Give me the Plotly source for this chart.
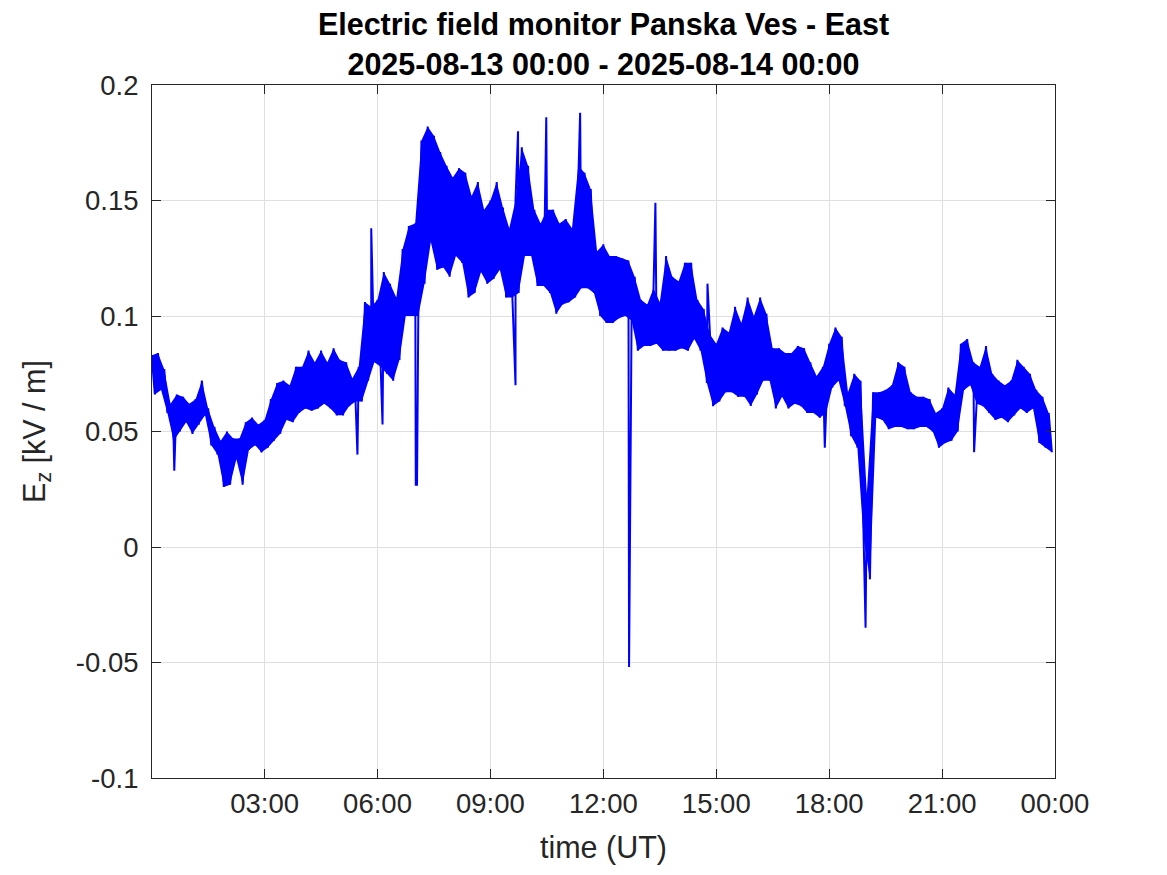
import pandas as pd
import plotly.graph_objects as go

# Ez band, one pair per 10 minutes (upper / lower swing), kV/m
ez_hi = [
    0.083, 0.084, 0.077, 0.062, 0.066, 0.065,  # 00h
    0.062, 0.064, 0.072, 0.060, 0.052, 0.046,  # 01h
    0.050, 0.047, 0.047, 0.054, 0.056, 0.053,  # 02h
    0.055, 0.064, 0.071, 0.072, 0.070, 0.078,  # 03h
    0.078, 0.085, 0.080, 0.085, 0.080, 0.086,  # 04h
    0.081, 0.080, 0.073, 0.078, 0.106, 0.104,  # 05h
    0.107, 0.119, 0.114, 0.108, 0.129, 0.139,  # 06h
    0.140, 0.176, 0.182, 0.178, 0.171, 0.165,  # 07h
    0.160, 0.164, 0.162, 0.152, 0.158, 0.146,  # 08h
    0.150, 0.158, 0.147, 0.138, 0.150, 0.173,  # 09h
    0.165, 0.146, 0.140, 0.146, 0.146, 0.140,  # 10h
    0.142, 0.138, 0.165, 0.162, 0.155, 0.128,  # 11h
    0.131, 0.126, 0.126, 0.125, 0.124, 0.117,  # 12h
    0.107, 0.105, 0.112, 0.106, 0.126, 0.117,  # 13h
    0.115, 0.123, 0.123, 0.107, 0.103, 0.092,  # 14h
    0.088, 0.095, 0.093, 0.104, 0.097, 0.108,  # 15h
    0.100, 0.108, 0.101, 0.086, 0.086, 0.084,  # 16h
    0.084, 0.087, 0.086, 0.080, 0.074, 0.078,  # 17h
    0.088, 0.095, 0.091, 0.067, 0.075, 0.072,  # 18h
    0.023, 0.067, 0.067, 0.068, 0.070, 0.080,  # 19h
    0.078, 0.067, 0.065, 0.065, 0.064, 0.058,  # 20h
    0.060, 0.069, 0.066, 0.088, 0.090, 0.080,  # 21h
    0.078, 0.087, 0.075, 0.072, 0.070, 0.072,  # 22h
    0.081, 0.078, 0.075, 0.068, 0.065, 0.058,  # 23h
]
ez_lo = [
    0.066, 0.068, 0.058, 0.046, 0.050, 0.054,  # 00h
    0.049, 0.053, 0.057, 0.044, 0.040, 0.026,  # 01h
    0.027, 0.038, 0.027, 0.042, 0.044, 0.041,  # 02h
    0.043, 0.046, 0.049, 0.055, 0.054, 0.058,  # 03h
    0.060, 0.059, 0.060, 0.062, 0.060, 0.057,  # 04h
    0.057, 0.061, 0.063, 0.063, 0.072, 0.080,  # 05h
    0.078, 0.075, 0.072, 0.081, 0.100, 0.100,  # 06h
    0.100, 0.114, 0.132, 0.120, 0.121, 0.117,  # 07h
    0.126, 0.123, 0.108, 0.110, 0.119, 0.114,  # 08h
    0.116, 0.120, 0.108, 0.108, 0.110, 0.126,  # 09h
    0.126, 0.113, 0.113, 0.110, 0.101, 0.105,  # 10h
    0.106, 0.108, 0.112, 0.112, 0.110, 0.100,  # 11h
    0.097, 0.097, 0.099, 0.100, 0.098, 0.085,  # 12h
    0.087, 0.087, 0.088, 0.085, 0.085, 0.085,  # 13h
    0.086, 0.085, 0.090, 0.085, 0.071, 0.061,  # 14h
    0.063, 0.067, 0.067, 0.065, 0.065, 0.061,  # 15h
    0.066, 0.072, 0.072, 0.060, 0.065, 0.060,  # 16h
    0.062, 0.061, 0.058, 0.058, 0.056, 0.058,  # 17h
    0.069, 0.072, 0.061, 0.048, 0.043, 0.003,  # 18h
    -0.014, 0.056, 0.055, 0.051, 0.052, 0.052,  # 19h
    0.051, 0.051, 0.052, 0.052, 0.050, 0.043,  # 20h
    0.045, 0.046, 0.050, 0.068, 0.070, 0.062,  # 21h
    0.061, 0.058, 0.055, 0.056, 0.054, 0.057,  # 22h
    0.060, 0.058, 0.060, 0.045, 0.043, 0.041,  # 23h
]

# isolated single-sample spikes
spike_time = ["00:36", "05:28", "05:50", "06:08", "07:01", "07:03", "09:40", "09:44",
              "10:29", "11:23", "12:41", "13:23", "14:46", "17:53", "18:58", "21:51"]
spike_val = [0.033, 0.040, 0.138, 0.053, 0.027, 0.027, 0.070, 0.180,
             0.186, 0.188, -0.052, 0.149, 0.114, 0.043, -0.035, 0.041]

y_ticks = [-0.1, -0.05, 0, 0.05, 0.1, 0.15, 0.2]
y_labels = ["-0.1", "-0.05", "0", "0.05", "0.1", "0.15", "0.2"]

day = "2025-08-13"
start = pd.Timestamp(day + " 00:00")
t_hi = pd.date_range(start, periods=len(ez_hi), freq="10min")
t_lo = t_hi + pd.Timedelta(minutes=5)

# trace: upper and lower swings interleaved, spikes merged in by time
trace = pd.concat([
    pd.Series(ez_hi, index=t_hi),
    pd.Series(ez_lo, index=t_lo),
    pd.Series(spike_val, index=pd.to_datetime([day + " " + s for s in spike_time])),
]).sort_index()

blue = "#0000ff"
axis_col = "#262626"
grid_col = "#dfdfdf"
font = "Liberation Sans, Arial, sans-serif"

fig = go.Figure()
# solid band between the swings
fig.add_trace(go.Scatter(x=t_lo, y=ez_lo, mode="lines", line=dict(width=0), hoverinfo="skip"))
fig.add_trace(go.Scatter(x=t_hi, y=ez_hi, mode="lines", line=dict(width=0),
                         fill="tonexty", fillcolor=blue, hoverinfo="skip"))
fig.add_trace(go.Scatter(x=trace.index, y=trace.values, mode="lines",
                         line=dict(color=blue, width=2)))

fig.update_layout(
    width=1159, height=867,
    paper_bgcolor="white", plot_bgcolor="white",
    margin=dict(l=144, r=112, t=77, b=97),
    showlegend=False,
    font=dict(family=font, color=axis_col),
    title=dict(
        text="<b>Electric field monitor Panska Ves - East<br>2025-08-13 00:00 - 2025-08-14 00:00</b>",
        x=(603.5 - 8) / 1159, xanchor="center", xref="container",
        y=0.969, yanchor="top", yref="container",
        font=dict(size=30.5, color="black", family=font),
    ),
)

fig.update_xaxes(
    range=[start + pd.Timedelta(seconds=30), start + pd.Timedelta(hours=24)],
    tick0=start, dtick=3 * 3600 * 1000, tickformat="%H:%M",
    ticks="inside", ticklen=9, tickcolor=axis_col,
    showline=True, linecolor=axis_col, linewidth=1, mirror="ticks",
    showgrid=True, gridcolor=grid_col, gridwidth=1, zeroline=False,
    tickfont=dict(size=27.5, color=axis_col), ticklabelstandoff=1,
    title=dict(text="time (UT)", font=dict(size=30.5, color=axis_col), standoff=18),
)
fig.update_yaxes(
    range=[-0.1, 0.2], tickvals=y_ticks, ticktext=y_labels,
    ticks="inside", ticklen=9, tickcolor=axis_col,
    showline=True, linecolor=axis_col, linewidth=1, mirror="ticks",
    showgrid=True, gridcolor=grid_col, gridwidth=1, zeroline=False,
    tickfont=dict(size=27.5, color=axis_col), ticklabelstandoff=7,
    title=dict(text="E<sub>z</sub> [kV / m]", font=dict(size=30.5, color=axis_col), standoff=21),
)

fig.write_html("out.html")
